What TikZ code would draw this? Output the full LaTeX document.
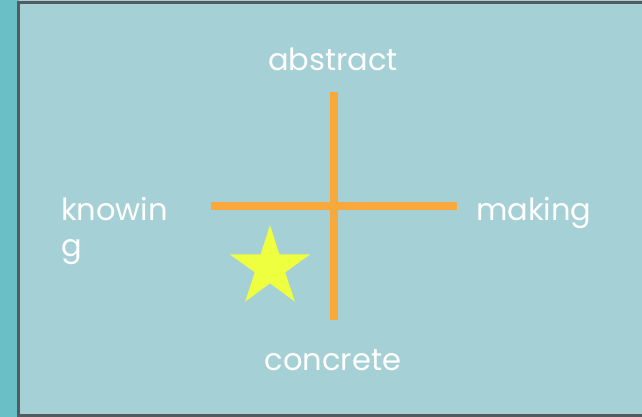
\documentclass[tikz,border=0pt]{standalone}
\usepackage{fontspec}
\setmainfont{Poppins}
\definecolor{stripteal}{HTML}{6ABEC5}
\definecolor{panelblue}{HTML}{A4D0D6}
\definecolor{framegray}{HTML}{545B5E}
\definecolor{axisorange}{HTML}{F9A83C}
\definecolor{staryellow}{HTML}{EEFF3F}
\tikzset{
  axisline/.style={draw=axisorange, line width=8pt},
  label/.style={text=white, inner sep=0pt, font=\fontsize{30.5}{36}\selectfont},
}
\begin{document}
\begin{tikzpicture}[x=1pt,y=-1pt]
\useasboundingbox (0,0) rectangle (642,417);
\fill[stripteal] (0,0) rectangle (642,417);
\fill[panelblue] (19,0) rectangle (642,417);
\fill[framegray] (16.5,1.5) rectangle (642,4.5);
\fill[framegray] (16.5,1.5) rectangle (19.5,417);
\fill[framegray] (16.5,414) rectangle (642,417);
% axes
\coordinate (vtop) at (333.5,92);
\coordinate (vbot) at (333.5,320);
\coordinate (hleft) at (211,206);
\coordinate (hright) at (457,206);
\draw[axisline] (hleft) -- (hright);
\draw[axisline] (vtop) -- (vbot);
% star
\begin{scope}[shift={(270,267.4)}]
\fill[staryellow] (0,-42.4)
  \foreach \k in {1,...,9} {
    -- ({(\k/2==int(\k/2) ? 42.4 : 16)*sin(36*\k)}, {-(\k/2==int(\k/2) ? 42.4 : 16)*cos(36*\k)})
  } -- cycle;
\end{scope}
% labels
\node[label, anchor=base] (abstract) at (333,70.5) {abstract};
\node[label, anchor=base] (concrete) at (333,370.5) {concrete};
\node[label, anchor=base west, align=left] (knowing) at (61,256) {knowin\\g};
\node[label, anchor=base west] (making) at (476,220) {making};
\end{tikzpicture}
\end{document}
